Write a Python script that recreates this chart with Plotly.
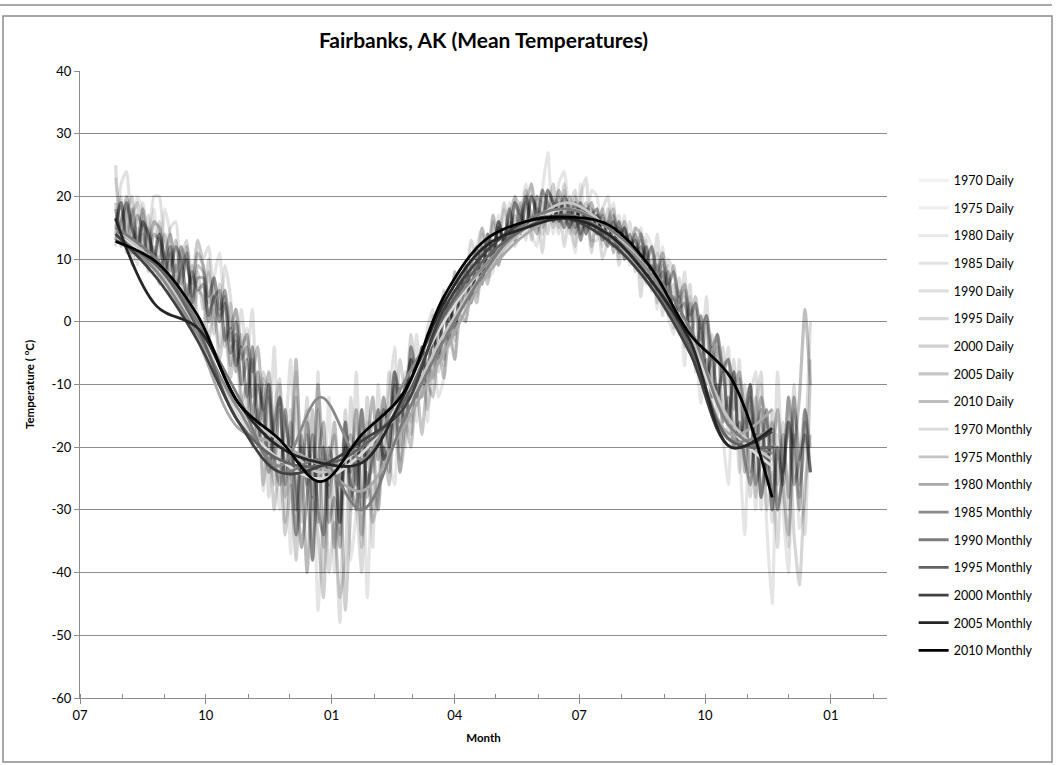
import pandas as pd
import plotly.graph_objects as go

years = ["1970", "1975", "1980", "1985", "1990", "1995", "2000", "2005", "2010"]

# daily series sampled every 4 days, starting where the daily curves begin on the axis
daily_start = "2000-07-27"
daily_step_days = 4

daily_1970 = [23, 16, 19, 12, 20, 17, 10, 18,
              8, 18, 14, 7, 4, 12, 8, 13,
              9, 0, 7, 11, 0, -7, 2, -8,
              -1, -16, -8, -27, -12, -20, -30, -14,
              -37, -8, -24, -40, -20, -46, -30, -12,
              -40, -22, -18, -38, -30, -14, -44, -26,
              -30, -14, -22, -26, -10, -20, -6, -16,
              -4, -16, -3, -12, -9, 2, -6, 6,
              0, 9, 5, 14, 7, 8, 17, 11,
              19, 13, 17, 22, 14, 12, 21, 27,
              14, 22, 24, 16, 11, 22, 15, 21,
              20, 12, 16, 19, 10, 17, 9, 15,
              7, 14, 12, 2, 12, 1, -2, 5,
              -7, 4, -4, -13, -1, -14, -2, -18,
              -26, -8, -20, -34, -14, -30, -10, -32,
              -45, -18, -30, -40, -12, -33, -28, -10]
daily_1975 = [12, 22, 24, 14, 9, 19, 13, 20,
              20, 10, 15, 16, 5, 12, 3, 13,
              10, 12, 4, 0, 9, 4, -8, 2,
              -6, 2, -16, -9, -20, -4, -22, -18,
              -6, -30, -18, -14, -38, -8, -40, -22,
              -30, -48, -20, -26, -8, -28, -16, -36,
              -10, -24, -12, -4, -22, -8, -16, -2,
              -12, -1, 2, -8, 4, -4, 8, 1,
              9, 4, 12, 15, 8, 17, 10, 18,
              12, 20, 18, 13, 22, 16, 14, 20,
              19, 14, 21, 17, 12, 20, 23, 13,
              13, 18, 20, 11, 17, 12, 16, 9,
              15, 9, 6, 14, 4, 10, 8, 1,
              8, -4, 3, -6, 4, -12, -3, -10,
              -4, -20, -6, -24, -12, -8, -30, -14,
              -32, -8, -26, -36, -14, -20, -34, -6]
daily_1980 = [25, 13, 18, 9, 15, 11, 17, 8,
              14, 6, 11, 3, 12, 2, 9, 1,
              -1, 8, 3, -4, 5, -7, 0, -12,
              -18, -4, -20, -10, -28, -14, -9, -32,
              -14, -34, -28, -12, -38, -24, -20, -40,
              -32, -44, -38, -12, -28, -40, -18, -30,
              -26, -12, -20, -8, -24, -18, -4, -12,
              -4, -14, -8, 2, -7, 5, -3, 8,
              2, 10, 4, 12, 8, 16, 9, 13,
              18, 12, 15, 20, 13, 18, 11, 19,
              15, 20, 12, 18, 21, 14, 18, 11,
              18, 10, 13, 17, 9, 15, 11, 14,
              4, 13, 6, 11, 1, 9, -1, 7,
              -4, 6, -8, 1, -10, -2, -15, -4,
              -18, -6, -24, -10, -28, -14, -8, -30,
              -24, -36, -16, -30, -10, -26, -20, 0]
daily_1985 = [14, 20, 11, 17, 19, 10, 15, 9,
              16, 7, 12, 4, 10, 13, 2, 8,
              2, 10, -2, 6, -4, 3, -8, -2,
              -14, -6, -20, -8, -12, -26, -10, -28,
              -24, -12, -32, -18, -30, -14, -36, -22,
              -18, -34, -14, -30, -20, -36, -12, -24,
              -14, -22, -8, -18, -6, -12, -2, -10,
              -4, -10, 1, -3, 5, 0, 8, 4,
              6, 13, 10, 15, 11, 17, 13, 19,
              14, 19, 16, 21, 15, 20, 19, 14,
              20, 15, 22, 14, 19, 13, 18, 12,
              17, 13, 18, 11, 16, 10, 14, 8,
              13, 6, 10, 3, 9, 1, 6, -2,
              4, -4, 2, -6, 0, -10, -4, -14,
              -8, -18, -12, -24, -10, -28, -16, -26,
              -14, -30, -24, -12, -34, -42, -26, -18]
daily_1990 = [19, 12, 17, 20, 11, 14, 8, 12,
              6, 11, 4, 9, 1, 6, -1, 5,
              4, -3, 2, -6, -1, -9, -3, -13,
              -10, -20, -14, -26, -18, -30, -22, -34,
              -26, -38, -22, -40, -28, -34, -44, -26,
              -36, -24, -46, -30, -20, -34, -24, -32,
              -28, -20, -24, -12, -20, -10, -18, -6,
              -12, -6, -9, 0, -6, 3, -2, 6,
              7, 3, 10, 6, 13, 9, 16, 12,
              17, 20, 14, 19, 22, 16, 21, 17,
              22, 16, 19, 15, 20, 14, 19, 16,
              17, 13, 16, 18, 12, 15, 10, 14,
              9, 12, 5, 9, 3, 6, 0, 4,
              -2, 3, -6, -1, -10, -4, -12, -7,
              -16, -8, -20, -14, -24, -12, -28, -20,
              -30, -20, -26, -34, -18, -28, -16, -24]
daily_1995 = [15, 19, 14, 18, 12, 16, 14, 11,
              10, 14, 9, 13, 6, 10, 4, 9,
              8, 3, 7, 1, 4, -3, 0, -6,
              -4, -12, -8, -16, -10, -22, -14, -24,
              -16, -30, -20, -26, -14, -32, -20, -28,
              -22, -32, -16, -28, -24, -14, -28, -20,
              -30, -20, -26, -14, -24, -16, -20, -10,
              -18, -10, -12, -4, -9, -2, -6, 1,
              0, 5, 3, 9, 6, 11, 9, 13,
              16, 14, 19, 15, 20, 17, 15, 21,
              19, 17, 15, 20, 16, 19, 14, 18,
              14, 18, 13, 17, 12, 16, 11, 15,
              14, 9, 12, 7, 10, 5, 9, 3,
              5, 0, 4, -3, 1, -6, -2, -8,
              -6, -14, -9, -18, -12, -20, -14, -24,
              -16, -26, -18, -28, -12, -22, -14, -20]
daily_2000 = [18, 14, 20, 15, 13, 18, 11, 16,
              15, 10, 14, 8, 12, 9, 6, 11,
              9, 4, 7, 2, 5, -1, 2, -4,
              -2, -8, -4, -14, -8, -18, -12, -16,
              -20, -6, -24, -16, -28, -10, -22, -26,
              -16, -26, -20, -18, -26, -14, -22, -16,
              -18, -12, -20, -8, -14, -10, -6, -12,
              -6, -10, -2, -6, 2, -3, 5, 2,
              8, 3, 10, 6, 14, 10, 16, 12,
              13, 17, 14, 19, 15, 20, 16, 18,
              16, 19, 15, 18, 14, 19, 17, 15,
              17, 14, 16, 13, 15, 12, 14, 10,
              14, 10, 12, 8, 11, 6, 8, 4,
              6, 1, 3, -1, 1, -4, -2, -7,
              -6, -10, -8, -14, -10, -18, -12, -16,
              -20, -14, -24, -16, -20, -12, 2, -10]
daily_2005 = [16, 19, 13, 11, 17, 15, 9, 14,
              13, 8, 12, 5, 8, 11, 3, 7,
              7, 0, 4, 5, -3, -1, -7, -4,
              -12, -4, -16, -20, -10, -22, -26, -14,
              -24, -34, -18, -26, -38, -22, -16, -32,
              -28, -36, -20, -24, -14, -30, -20, -12,
              -22, -14, -16, -8, -12, -16, -4, -8,
              -6, -2, -4, 1, 4, 0, 3, 7,
              4, 9, 12, 7, 14, 11, 16, 13,
              18, 13, 16, 20, 17, 14, 21, 19,
              16, 21, 17, 15, 19, 13, 17, 19,
              14, 17, 13, 12, 16, 10, 12, 13,
              9, 12, 6, 7, 3, 8, 1, 2,
              3, -2, -5, 1, -9, -6, -12, -8,
              -16, -8, -20, -16, -10, -26, -22, -14,
              -30, -20, -26, -12, -20, -30, -14, -24]
daily_2010 = [13, 16, 19, 15, 11, 16, 14, 10,
              14, 10, 8, 12, 10, 4, 8, 5,
              6, 1, 4, 0, 3, -5, -2, -10,
              -6, -15, -10, -14, -24, -16, -12, -26,
              -20, -26, -36, -28, -18, -30, -34, -20,
              -24, -32, -16, -26, -30, -18, -26, -22,
              -14, -22, -20, -10, -16, -12, -6, -10,
              -4, -8, -2, -5, 1, 3, -1, 5,
              9, 5, 8, 12, 9, 11, 15, 13,
              14, 19, 17, 15, 20, 18, 16, 21,
              19, 16, 20, 18, 15, 18, 14, 17,
              18, 14, 12, 16, 11, 15, 12, 9,
              12, 7, 9, 5, 8, 3, 4, 0,
              -1, -5, -3, -8, -6, -12, -10, -16,
              -12, -20, -16, -22, -26, -18, -28, -22,
              -20, -30, -24, -16, -26, -22, -18, -24]

# monthly means Aug .. Dec of the following year (17 months)
monthly_start = "2000-07-27"
monthly_step_days = 30

monthly_1970 = [14, 9, -2, -15, -22, -25, -21, -12, 0, 9, 15, 18, 15, 8, -3, -17, -23]
monthly_1975 = [15, 9, -1, -14, -19, -24, -20, -14, -2, 8, 15, 19, 15, 8, -2, -16, -22]
monthly_1980 = [13, 8, -3, -17, -19.5, -23, -27, -17, -5, 7, 14, 17, 14, 6, -4, -18, -14]
monthly_1985 = [14, 8, -2, -14, -23, -12, -22, -10, 1, 9, 15, 17, 14, 8, -4, -19, -17]
monthly_1990 = [15, 10, 0, -12, -24, -22, -30, -16, -3, 8, 16, 18, 15, 9, -1, -17, -21]
monthly_1995 = [13, 9, -1, -16, -22, -23, -20, -13, 1, 10, 15, 17, 14, 7, -4, -19, -20]
monthly_2000 = [14, 7, -3, -16, -24, -23, -19, -14, 2, 11, 16, 16.5, 13, 6, -5, -20, -17.5]
monthly_2005 = [16.5, 2.5, -1, -13, -20, -22.5, -22.5, -12, 3, 12, 15, 16.5, 14, 7, -3, -20, -17]
monthly_2010 = [12.8, 9.5, 1, -13, -18.8, -25.5, -18, -11.5, 4, 13, 16, 16.7, 15.5, 9, -2, -9, -28]

y_ticks = [-60, -50, -40, -30, -20, -10, 0, 10, 20, 30, 40]

daily = [daily_1970, daily_1975, daily_1980, daily_1985, daily_1990,
         daily_1995, daily_2000, daily_2005, daily_2010]
monthly = [monthly_1970, monthly_1975, monthly_1980, monthly_1985, monthly_1990,
           monthly_1995, monthly_2000, monthly_2005, monthly_2010]

# daily lines are translucent, so they darken where they overlap
daily_alpha = [0.10, 0.12, 0.14, 0.16, 0.19, 0.22, 0.25, 0.28, 0.31]
daily_legend_colors = ["#f2f2f2", "#eeeeee", "#e9e9e9", "#e3e3e3", "#dfdfdf",
                       "#d8d8d8", "#cfcfcf", "#c6c6c6", "#bdbdbd"]
monthly_colors = ["#dadada", "#c4c4c4", "#a8a8a8", "#8a8a8a", "#7c7c7c",
                  "#626262", "#404040", "#262626", "#000000"]

FONT = "Lato, Carlito, Calibri, sans-serif"

fig = go.Figure()

for i, yr in enumerate(years):
    x = pd.date_range(daily_start, periods=len(daily[i]), freq=f"{daily_step_days}D")
    fig.add_trace(go.Scatter(
        x=x, y=daily[i], mode="lines", showlegend=False, hoverinfo="skip",
        line=dict(color=f"rgba(0,0,0,{daily_alpha[i]})", width=3.2, shape="spline", smoothing=0.5),
    ))

# legend entries for the daily series (drawn in their lighter legend shade)
for i, yr in enumerate(years):
    fig.add_trace(go.Scatter(
        x=[None], y=[None], mode="lines", name=f"{yr} Daily", legendgroup=f"d{yr}",
        line=dict(color=daily_legend_colors[i], width=3.2),
    ))

for i, yr in enumerate(years):
    x = pd.date_range(monthly_start, periods=len(monthly[i]), freq=f"{monthly_step_days}D")
    fig.add_trace(go.Scatter(
        x=x, y=monthly[i], mode="lines", name=f"{yr} Monthly", legendgroup=f"m{yr}",
        line=dict(color=monthly_colors[i], width=2.8, shape="spline", smoothing=1.0),
    ))

fig.update_layout(
    width=1056, height=765,
    margin=dict(l=80, r=169, t=71, b=67),
    paper_bgcolor="white", plot_bgcolor="white",
    font=dict(family=FONT, size=12, color="#000000"),
    title=dict(text="<b>Fairbanks, AK (Mean Temperatures)</b>",
               x=(80 + 887) / 2 / 1056, xanchor="center", y=1 - 41 / 765, yanchor="middle",
               font=dict(family=FONT, size=21, color="#000000")),
    legend=dict(x=1.033, xanchor="left", y=0.849, yanchor="top",
                tracegroupgap=8.4, font=dict(family=FONT, size=12.5),
                bgcolor="rgba(0,0,0,0)", itemwidth=30),
    showlegend=True,
)

fig.update_yaxes(range=[-60, 40], tickvals=y_ticks, ticktext=[str(v) for v in y_ticks],
                 showgrid=True, gridcolor="#8c8c8c", gridwidth=1,
                 zeroline=False, showline=True, linecolor="#8c8c8c", linewidth=1,
                 ticks="outside", ticklen=5, tickcolor="#8c8c8c",
                 tickfont=dict(size=13, family=FONT),
                 title=dict(text="<b>Temperature ( <sup>o</sup>C)</b>", font=dict(size=11.5, family=FONT),
                            standoff=14))

fig.update_xaxes(type="date", range=["2000-07-01", "2002-02-11"],
                 tick0="2000-07-01", dtick="M3", tickformat="%m",
                 showgrid=False, zeroline=False, showline=True, linecolor="#8c8c8c", linewidth=1,
                 ticks="outside", ticklen=5, tickcolor="#8c8c8c",
                 minor=dict(dtick="M1", ticks="inside", ticklen=4, tickcolor="#8c8c8c", showgrid=False),
                 tickfont=dict(size=13, family=FONT),
                 title=dict(text="<b>Month</b>", font=dict(size=11.5, family=FONT), standoff=12))

# chart frame (outer border) and edge of the neighbouring chart above
W, H = 807.0, 627.0
def px(xp):
    return (xp - 80) / W
def py(yp):
    return (698 - yp) / H

fig.add_shape(type="rect", xref="paper", yref="paper",
              x0=px(3), x1=px(1052), y0=py(762), y1=py(16),
              line=dict(color="#8c8c8c", width=1.5), layer="below")
fig.add_shape(type="line", xref="paper", yref="paper",
              x0=px(0), x1=px(1052), y0=py(5), y1=py(5),
              line=dict(color="#8c8c8c", width=1.5), layer="below")

fig.write_html("out.html", config={"displayModeBar": False},
               post_script="document.body.style.margin='0';")
